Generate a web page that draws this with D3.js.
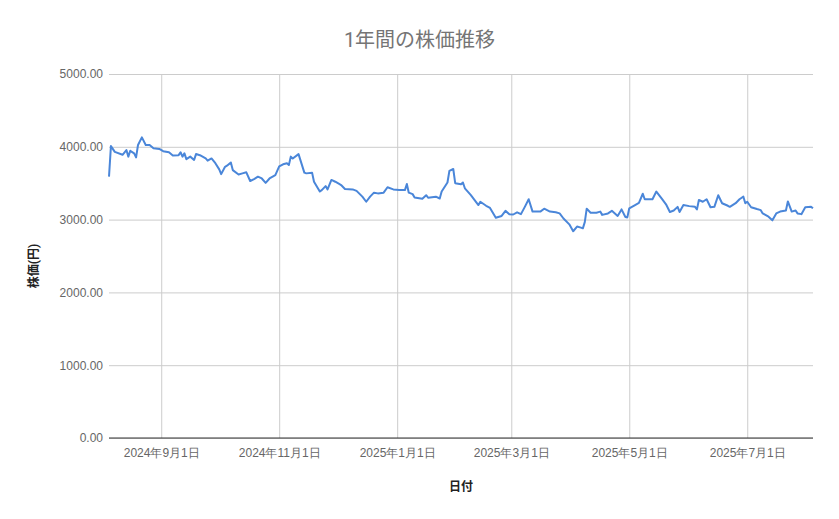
<!DOCTYPE html>
<html>
<head>
<meta charset="utf-8">
<script src="https://cdn.jsdelivr.net/npm/d3@7"></script>
<style>
  body { margin: 0; background: #fff; }
  svg { display: block; font-family: Roboto, "Noto Sans CJK JP", sans-serif; }
</style>
</head>
<body>
<div id="chart"></div>
<script>
"use strict";

// == data ==
var chartTitle = "1年間の株価推移";
var xTitle = "日付";
var yTitle = "株価(円)";

var dates = [
  "2024-08-05","2024-08-06","2024-08-08","2024-08-12","2024-08-14","2024-08-15","2024-08-16","2024-08-18",
  "2024-08-19","2024-08-20","2024-08-22","2024-08-24","2024-08-26","2024-08-28","2024-08-31","2024-09-02",
  "2024-09-05","2024-09-07","2024-09-10","2024-09-11","2024-09-12","2024-09-13","2024-09-14","2024-09-16",
  "2024-09-18","2024-09-19","2024-09-21","2024-09-24","2024-09-25","2024-09-27","2024-09-29","2024-10-01",
  "2024-10-02","2024-10-04","2024-10-05","2024-10-07","2024-10-08","2024-10-11","2024-10-13","2024-10-15",
  "2024-10-17","2024-10-19","2024-10-21","2024-10-23","2024-10-25","2024-10-27","2024-10-30","2024-11-01",
  "2024-11-03","2024-11-05","2024-11-06","2024-11-07","2024-11-08","2024-11-11","2024-11-14","2024-11-15",
  "2024-11-18","2024-11-19","2024-11-22","2024-11-23","2024-11-25","2024-11-26","2024-11-28","2024-11-30",
  "2024-12-02","2024-12-03","2024-12-05","2024-12-09","2024-12-11","2024-12-14","2024-12-16","2024-12-18",
  "2024-12-20","2024-12-22","2024-12-25","2024-12-27","2024-12-30","2025-01-02","2025-01-05","2025-01-06",
  "2025-01-07","2025-01-09","2025-01-10","2025-01-14","2025-01-16","2025-01-17","2025-01-21","2025-01-23",
  "2025-01-24","2025-01-27","2025-01-28","2025-01-30","2025-01-31","2025-02-03","2025-02-04","2025-02-05",
  "2025-02-08","2025-02-12","2025-02-13","2025-02-16","2025-02-18","2025-02-21","2025-02-24","2025-02-26",
  "2025-02-28","2025-03-02","2025-03-04","2025-03-06","2025-03-08","2025-03-10","2025-03-12","2025-03-16",
  "2025-03-18","2025-03-21","2025-03-24","2025-03-26","2025-03-28","2025-03-31","2025-04-02","2025-04-04",
  "2025-04-06","2025-04-07","2025-04-08","2025-04-09","2025-04-11","2025-04-14","2025-04-16","2025-04-17",
  "2025-04-20","2025-04-22","2025-04-25","2025-04-27","2025-04-29","2025-04-30","2025-05-01","2025-05-04",
  "2025-05-06","2025-05-08","2025-05-09","2025-05-13","2025-05-15","2025-05-18","2025-05-20","2025-05-22",
  "2025-05-24","2025-05-26","2025-05-27","2025-05-29","2025-06-01","2025-06-04","2025-06-05","2025-06-06",
  "2025-06-08","2025-06-10","2025-06-12","2025-06-14","2025-06-16","2025-06-18","2025-06-21","2025-06-22",
  "2025-06-25","2025-06-27","2025-06-29","2025-06-30","2025-07-01","2025-07-03","2025-07-06","2025-07-08",
  "2025-07-09","2025-07-12","2025-07-14","2025-07-16","2025-07-18","2025-07-21","2025-07-22","2025-07-24",
  "2025-07-26","2025-07-27","2025-07-29","2025-07-31","2025-08-03","2025-08-04"
];

var prices = [
  3590, 4010, 3930, 3890, 3955, 3865, 3945, 3910,
  3855, 4025, 4130, 4025, 4025, 3980, 3970, 3940,
  3925, 3880, 3885, 3925, 3865, 3910, 3830, 3865,
  3820, 3900, 3885, 3840, 3810, 3840, 3775, 3690,
  3625, 3725, 3740, 3785, 3680, 3620, 3635, 3650,
  3530, 3555, 3590, 3565, 3505, 3565, 3610, 3730,
  3760, 3775, 3750, 3865, 3840, 3900, 3645, 3635,
  3645, 3520, 3385, 3405, 3460, 3415, 3545, 3520,
  3490, 3475, 3420, 3415, 3395, 3315, 3245, 3315,
  3370, 3360, 3370, 3445, 3415, 3405, 3405, 3490,
  3370, 3350, 3305, 3285, 3335, 3300, 3315, 3290,
  3385, 3510, 3670, 3695, 3500, 3485, 3510, 3430,
  3340, 3200, 3245, 3190, 3160, 3025, 3050, 3120,
  3075, 3070, 3100, 3075, 3175, 3280, 3110, 3110,
  3150, 3110, 3100, 3085, 3015, 2935, 2840, 2905,
  2890, 2880, 2965, 3150, 3095, 3095, 3110, 3065,
  3085, 3120, 3050, 3140, 3035, 3030, 3155, 3200,
  3230, 3355, 3280, 3280, 3385, 3280, 3210, 3105,
  3125, 3175, 3105, 3200, 3185, 3175, 3140, 3270,
  3245, 3280, 3170, 3175, 3335, 3225, 3190, 3175,
  3225, 3280, 3315, 3225, 3245, 3170, 3145, 3130,
  3085, 3040, 2990, 3085, 3110, 3125, 3250, 3110,
  3125, 3085, 3075, 3170, 3175, 3155
];

var yTicks = [0, 1000, 2000, 3000, 4000, 5000];
var xTicks = ["2024-09-01", "2024-11-01", "2025-01-01", "2025-03-01", "2025-05-01", "2025-07-01"];

// == svg boilerplate ==
var W = 839, H = 519;
var margin = { top: 74, right: 26, bottom: 81, left: 109 };
var width = W - margin.left - margin.right,
    height = H - margin.top - margin.bottom;

var parse = d3.utcParse("%Y-%m-%d");
var fmtDate = d3.utcFormat("%Y年%-m月%-d日");
var points = dates.map(function (d, i) { return { date: parse(d), value: prices[i] }; });

var svg = d3.select("#chart").append("svg")
  .attr("width", W)
  .attr("height", H);

var g = svg.append("g")
  .attr("transform", "translate(" + margin.left + "," + margin.top + ")");

// == scales ==
var x = d3.scaleUtc()
  .domain(d3.extent(points, function (d) { return d.date; }))
  .range([0, width]);

var y = d3.scaleLinear()
  .domain([0, 5000])
  .range([height, 0]);

// == gridlines ==
var yGrid = d3.axisLeft(y)
  .tickValues(yTicks)
  .tickFormat("")
  .tickSize(-width);

g.append("g").attr("class", "grid").call(yGrid)
  .call(function (s) {
    s.select(".domain").remove();
    s.selectAll("line").attr("stroke", "#cccccc");
  });

var xGrid = d3.axisBottom(x)
  .tickValues(xTicks.map(parse))
  .tickFormat("")
  .tickSize(-height);

g.append("g").attr("transform", "translate(0," + height + ")").call(xGrid)
  .call(function (s) {
    s.select(".domain").remove();
    s.selectAll("line").attr("stroke", "#cccccc");
  });

// baseline
g.append("line")
  .attr("x1", 0).attr("x2", width)
  .attr("y1", y(0)).attr("y2", y(0))
  .attr("stroke", "#333333").attr("stroke-width", 1);

// == axis labels ==
var yAxis = d3.axisLeft(y)
  .tickValues(yTicks)
  .tickFormat(d3.format(".2f"))
  .tickSize(0)
  .tickPadding(6);

g.append("g").call(yAxis)
  .call(function (s) {
    s.select(".domain").remove();
    s.selectAll("text").attr("fill", "#666666").style("font-size", "12px");
  });

var xAxis = d3.axisBottom(x)
  .tickValues(xTicks.map(parse))
  .tickFormat(fmtDate)
  .tickSize(0)
  .tickPadding(10);

g.append("g").attr("transform", "translate(0," + height + ")").call(xAxis)
  .call(function (s) {
    s.select(".domain").remove();
    s.selectAll("text").attr("fill", "#666666").style("font-size", "12px");
  });

// == line ==
var line = d3.line()
  .x(function (d) { return x(d.date); })
  .y(function (d) { return y(d.value); });

g.append("path")
  .datum(points)
  .attr("d", line)
  .attr("fill", "none")
  .attr("stroke", "#4a86d9")
  .attr("stroke-width", 2)
  .attr("stroke-linejoin", "round");

// == titles ==
svg.append("text")
  .attr("x", W / 2)
  .attr("y", 47)
  .attr("text-anchor", "middle")
  .attr("fill", "#757575")
  .style("font-size", "20px")
  .text(chartTitle);

svg.append("text")
  .attr("x", margin.left + width / 2)
  .attr("y", 491)
  .attr("text-anchor", "middle")
  .attr("fill", "#222222")
  .style("font-size", "12px")
  .style("font-weight", "bold")
  .text(xTitle);

svg.append("text")
  .attr("transform", "translate(38," + (margin.top + height / 2 + 10) + ") rotate(-90)")
  .attr("text-anchor", "middle")
  .attr("fill", "#222222")
  .style("font-size", "12px")
  .style("font-weight", "bold")
  .text(yTitle);
</script>
</body>
</html>
